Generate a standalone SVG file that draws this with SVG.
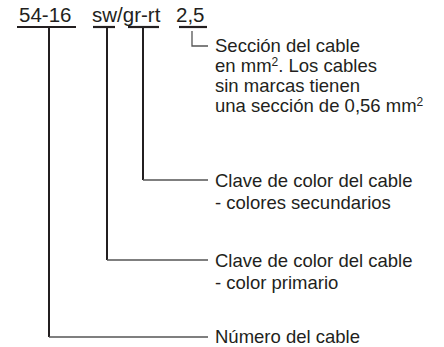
<svg xmlns="http://www.w3.org/2000/svg" width="444" height="347" viewBox="0 0 444 347">
<style>
text{font-family:"Liberation Sans",Arial,sans-serif;fill:#231f20}
.t{font-size:20.5px}
.l{font-size:18.5px}
.u{stroke:#231f20;stroke-width:2.2;fill:none}
.v{stroke:#231f20;stroke-width:2;fill:none}
.h{stroke:#555;stroke-width:1.3;fill:none}
</style>
<rect width="444" height="347" fill="#fff"/>
<g id="code">
<text class="t" x="19" y="22">54-16</text>
<text class="t" x="92" y="22">sw/gr-rt</text>
<text class="t" x="176" y="22">2,5</text>
<line class="u" x1="17" y1="27" x2="76" y2="27"/>
<line class="u" x1="93" y1="27" x2="115" y2="27"/>
<line class="u" x1="128" y1="27" x2="159" y2="27"/>
<line class="u" x1="179" y1="27" x2="207" y2="27"/>
</g>
<g id="connectors">
<path class="v" d="M49,27V337"/>
<path class="h" d="M49,337H208"/>
<path class="v" d="M107,27V260"/>
<path class="h" d="M107,260H208"/>
<path class="v" d="M143,27V180"/>
<path class="h" d="M143,180H208"/>
<path class="h" d="M192,31V46H208"/>
</g>
<g id="seccion">
<text class="l" x="215" y="52">Sección del cable</text>
<text class="l" x="215" y="72">en mm<tspan font-size="12" dy="-6">2</tspan><tspan dy="6">. Los cables</tspan></text>
<text class="l" x="215" y="92">sin marcas tienen</text>
<text class="l" x="215" y="112">una sección de 0,56 mm<tspan font-size="12" dy="-6">2</tspan></text>
</g>
<g id="secundarios">
<text class="l" x="215" y="187">Clave de color del cable</text>
<text class="l" x="215" y="209">- colores secundarios</text>
</g>
<g id="primario">
<text class="l" x="215" y="267">Clave de color del cable</text>
<text class="l" x="215" y="289">- color primario</text>
</g>
<g id="numero">
<text class="l" x="215" y="343">Número del cable</text>
</g>
</svg>
